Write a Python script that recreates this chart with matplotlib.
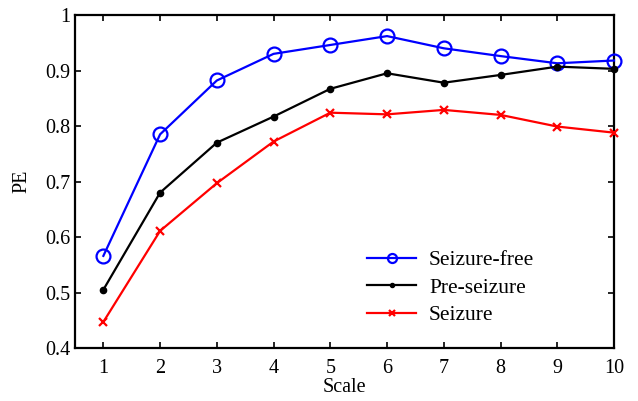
import matplotlib
matplotlib.use('Agg')
import matplotlib.pyplot as plt

scales = [1, 2, 3, 4, 5, 6, 7, 8, 9, 10]
seizure_free = [0.566, 0.785, 0.882, 0.930, 0.946, 0.962, 0.940, 0.926, 0.913, 0.918]
pre_seizure = [0.505, 0.680, 0.770, 0.817, 0.867, 0.895, 0.878, 0.892, 0.907, 0.903]
seizure = [0.447, 0.611, 0.697, 0.772, 0.824, 0.821, 0.829, 0.820, 0.799, 0.788]

plt.rcParams['font.family'] = ['Liberation Serif', 'DejaVu Serif']

fig = plt.figure(figsize=(6.38, 4.01), dpi=100)
ax = fig.add_axes([75/638, 1 - 348/401, (614 - 75)/638, (348 - 15)/401])

ax.plot(scales, seizure_free, color='#0000ff', marker='o', markersize=10,
        markerfacecolor='none', markeredgewidth=1.6, linewidth=1.6,
        label='Seizure-free', clip_on=False, zorder=3)
ax.plot(scales, pre_seizure, color='black', marker='.', markersize=9,
        linewidth=1.6, label='Pre-seizure', clip_on=False, zorder=3)
ax.plot(scales, seizure, color='#ff0000', marker='x', markersize=6,
        markeredgewidth=1.6, linewidth=1.6, label='Seizure', clip_on=False, zorder=3)

ax.set_xlim(0.5, 10)
ax.set_ylim(0.4, 1.0)
ax.set_xticks(scales)
ax.set_yticks([0.4, 0.5, 0.6, 0.7, 0.8, 0.9, 1.0])
ax.set_yticklabels(['0.4', '0.5', '0.6', '0.7', '0.8', '0.9', '1'])
ax.tick_params(direction='in', length=4, width=1.2, labelsize=14.5, top=True, right=True)
ax.tick_params(axis='x', pad=8)
ax.tick_params(axis='y', pad=3)
for s in ax.spines.values():
    s.set_linewidth(1.6)

ax.set_xlabel('Scale', fontsize=14.5, labelpad=0)
ax.set_ylabel('PE', fontsize=14.5, labelpad=10)

ax.legend(loc='upper left', frameon=False, fontsize=15.5, handlelength=2.28,
          handletextpad=0.6, labelspacing=0.35, borderpad=0, borderaxespad=0,
          markerscale=0.65, bbox_to_anchor=(367/638, 1 - 250/401),
          bbox_transform=fig.transFigure)

fig.savefig('out.png', dpi=100)
